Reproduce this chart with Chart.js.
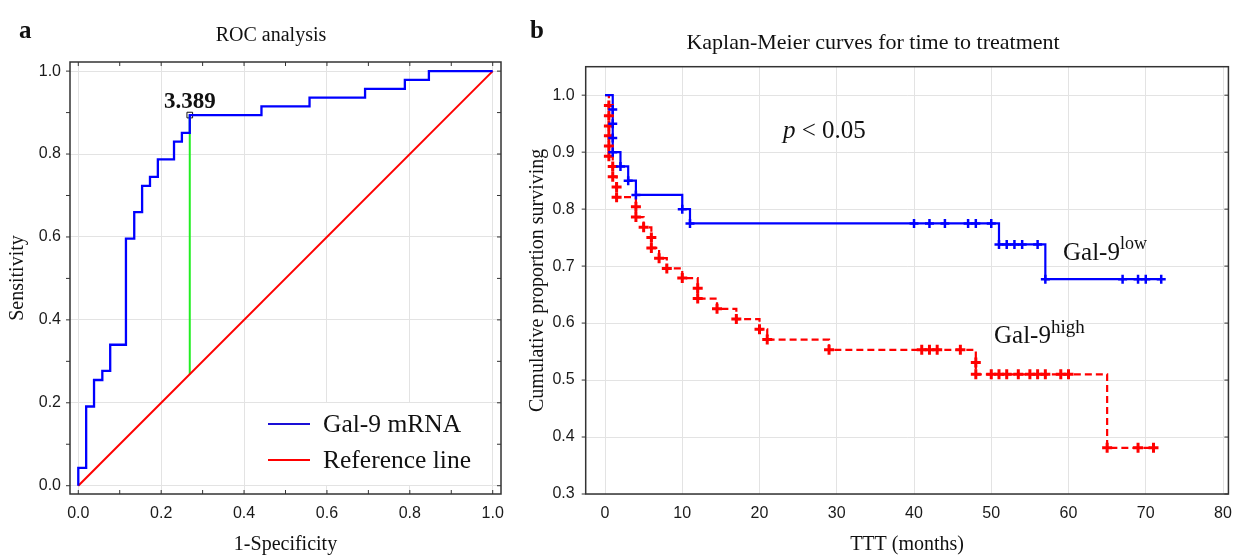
<!DOCTYPE html>
<html>
<head>
<meta charset="utf-8">
<script src="https://cdn.jsdelivr.net/npm/chart.js@4/dist/chart.umd.min.js"></script>
<style>
  body { margin: 0; background: #fff; }
  #wrap { position: relative; width: 1242px; height: 558px; }
  #rocBox { position: absolute; left: 0; top: 0; width: 520px; height: 558px; }
  #kmBox { position: absolute; left: 520px; top: 0; width: 722px; height: 558px; }
</style>
</head>
<body>
<div id="wrap">
  <div id="rocBox"><canvas id="roc"></canvas></div>
  <div id="kmBox"><canvas id="km"></canvas></div>
</div>
<script>
// ---- panel a: ROC ----
const rocFpr = [0, 0.019, 0.038, 0.058, 0.077, 0.115, 0.135, 0.154, 0.173, 0.192, 0.231, 0.250, 0.269, 0.442, 0.558, 0.692, 0.788, 0.846, 1.0];
const rocTpr = [0, 0.043, 0.191, 0.255, 0.277, 0.340, 0.596, 0.660, 0.723, 0.745, 0.787, 0.830, 0.851, 0.894, 0.915, 0.936, 0.957, 0.979, 1.0];
const refX = [0, 1];
const refY = [0, 1];
const cutX = 0.269;
const cutY = 0.894;
const cutLabel = '3.389';
const rocTicks = [0, 0.2, 0.4, 0.6, 0.8, 1.0];
const rocMinorTicks = [0, 0.1, 0.2, 0.3, 0.4, 0.5, 0.6, 0.7, 0.8, 0.9, 1.0];

// ---- panel b: Kaplan-Meier ----
const lowTime = [0, 1, 1, 1, 1, 2, 3, 4, 10, 11, 51, 57, 72];
const lowSurv = [1.0, 0.975, 0.95, 0.925, 0.9, 0.875, 0.85, 0.825, 0.8, 0.775, 0.738, 0.677, 0.677];
const lowMarkTime = [1, 1, 1, 1, 2, 3, 4, 10, 11, 40, 42, 44, 47, 48, 50, 51, 52, 53, 54, 56, 57, 67, 69, 70, 72];
const lowMarkSurv = [0.975, 0.95, 0.925, 0.9, 0.875, 0.85, 0.825, 0.8, 0.775, 0.775, 0.775, 0.775, 0.775, 0.775, 0.775, 0.738, 0.738, 0.738, 0.738, 0.738, 0.677, 0.677, 0.677, 0.677, 0.677];

const highTime = [0, 0.5, 0.5, 0.5, 0.5, 0.5, 0.5, 1, 1, 1.5, 1.5, 4, 4, 5, 6, 6, 7, 8, 10, 12, 12, 14.5, 17, 20, 21, 29, 48, 48, 65, 71];
const highSurv = [1.0, 0.982, 0.964, 0.946, 0.929, 0.911, 0.893, 0.875, 0.857, 0.839, 0.821, 0.804, 0.786, 0.768, 0.75, 0.732, 0.714, 0.696, 0.679, 0.661, 0.643, 0.625, 0.607, 0.589, 0.571, 0.553, 0.531, 0.510, 0.381, 0.381];
const highMarkTime = [0.5, 0.5, 0.5, 0.5, 0.5, 0.5, 1, 1, 1.5, 1.5, 4, 4, 5, 6, 6, 7, 8, 10, 12, 12, 14.5, 17, 20, 21, 29, 41, 42, 43, 46, 48, 48, 50, 51, 52, 53.5, 55, 56, 57, 59, 60, 65, 69, 71];
const highMarkSurv = [0.982, 0.964, 0.946, 0.929, 0.911, 0.893, 0.875, 0.857, 0.839, 0.821, 0.804, 0.786, 0.768, 0.75, 0.732, 0.714, 0.696, 0.679, 0.661, 0.643, 0.625, 0.607, 0.589, 0.571, 0.553, 0.553, 0.553, 0.553, 0.553, 0.531, 0.510, 0.510, 0.510, 0.510, 0.510, 0.510, 0.510, 0.510, 0.510, 0.510, 0.381, 0.381, 0.381];
const kmXTicks = [0, 10, 20, 30, 40, 50, 60, 70, 80];
const kmYTicks = [0.3, 0.4, 0.5, 0.6, 0.7, 0.8, 0.9, 1.0];

const pts = (xs, ys) => xs.map((x, i) => ({ x: x, y: ys[i] }));
const SERIF = '"Liberation Serif", "Times New Roman", serif';
const SANS = '"Liberation Sans", Arial, sans-serif';
const GRID = '#e3e3e3';

// box round the plot area + little tick marks
function framePlugin(xMinor, yMinor) {
  return {
    id: 'frame',
    afterDraw(chart) {
      const ctx = chart.ctx, a = chart.chartArea;
      const sx = chart.scales.x, sy = chart.scales.y;
      ctx.save();
      ctx.strokeStyle = '#333';
      ctx.lineWidth = 1;
      xMinor.forEach(v => {
        const px = sx.getPixelForValue(v);
        ctx.beginPath();
        ctx.moveTo(px, a.bottom); ctx.lineTo(px, a.bottom - 4);
        ctx.moveTo(px, a.top); ctx.lineTo(px, a.top + 4);
        ctx.stroke();
      });
      yMinor.forEach(v => {
        const py = sy.getPixelForValue(v);
        ctx.beginPath();
        ctx.moveTo(a.left, py); ctx.lineTo(a.left - 4, py);
        ctx.moveTo(a.right, py); ctx.lineTo(a.right - 4, py);
        ctx.stroke();
      });
      ctx.lineWidth = 1.5;
      ctx.strokeRect(a.left, a.top, a.right - a.left, a.bottom - a.top);
      ctx.restore();
    }
  };
}

function sup(ctx, x, y, base, top, size, supSize, rise) {
  ctx.font = size + 'px ' + SERIF;
  ctx.fillText(base, x, y);
  const w = ctx.measureText(base).width;
  ctx.font = supSize + 'px ' + SERIF;
  ctx.fillText(top, x + w, y - rise);
}

function axes(xTicks, yTicks, xr, yr, yWidth, yPad, xFmt, yFmt, xTitle, yTitle) {
  return {
    x: {
      type: 'linear', min: xr[0], max: xr[1],
      afterBuildTicks: s => { s.ticks = xTicks.map(v => ({ value: v })); },
      afterFit: s => { s.height = 64; },
      grid: { color: GRID, drawTicks: false },
      border: { display: false },
      ticks: { font: { family: SANS, size: 16 }, color: '#1a1a1a', padding: 10, maxRotation: 0, callback: xFmt },
      title: { display: true, text: xTitle, font: { family: SERIF, size: 20 }, color: '#111', padding: { top: 0, bottom: 1 } }
    },
    y: {
      type: 'linear', min: yr[0], max: yr[1],
      afterBuildTicks: s => { s.ticks = yTicks.map(v => ({ value: v })); },
      afterFit: s => { s.width = yWidth; },
      grid: { color: GRID, drawTicks: false },
      border: { display: false },
      ticks: { font: { family: SANS, size: 16 }, color: '#1a1a1a', padding: yPad, callback: yFmt },
      title: { display: true, text: yTitle, font: { family: SERIF, size: 20 }, color: '#111', padding: { top: 6, bottom: 0 } }
    }
  };
}

const rocText = {
  id: 'rocText',
  afterDraw(chart) {
    const ctx = chart.ctx;
    const px = chart.scales.x.getPixelForValue(cutX);
    const py = chart.scales.y.getPixelForValue(cutY);
    ctx.save();
    ctx.fillStyle = '#111';
    ctx.textBaseline = 'alphabetic';
    ctx.font = 'bold 25px ' + SERIF;
    ctx.fillText('a', 19, 38);
    ctx.font = '20px ' + SERIF;
    ctx.textAlign = 'center';
    ctx.fillText('ROC analysis', 271, 41);
    ctx.font = 'bold 23px ' + SERIF;
    ctx.fillText(cutLabel, px, py - 7);
    // legend
    ctx.textAlign = 'left';
    ctx.fillStyle = '#fff';
    ctx.fillRect(258, 403, 234, 82);
    ctx.lineWidth = 2;
    ctx.strokeStyle = '#1a0fd6';
    ctx.beginPath(); ctx.moveTo(268, 424); ctx.lineTo(310, 424); ctx.stroke();
    ctx.strokeStyle = '#ff0000';
    ctx.beginPath(); ctx.moveTo(268, 460); ctx.lineTo(310, 460); ctx.stroke();
    ctx.fillStyle = '#111';
    ctx.font = '25.5px ' + SERIF;
    ctx.fillText('Gal-9 mRNA', 323, 432);
    ctx.fillText('Reference line', 323, 468);
    ctx.restore();
  }
};

new Chart(document.getElementById('roc'), {
  type: 'line',
  data: {
    datasets: [
      { label: 'Gal-9 mRNA', data: pts(rocFpr, rocTpr), borderColor: '#0000ff', borderWidth: 2.3, stepped: 'after', pointRadius: 0, fill: false },
      { label: 'Reference line', data: pts(refX, refY), borderColor: '#ff0000', borderWidth: 2, pointRadius: 0, fill: false },
      { label: 'Cut-off', data: [{ x: cutX, y: cutX }, { x: cutX, y: cutY }], borderColor: '#22ee22', borderWidth: 2, pointRadius: 0, fill: false },
      { label: 'Cut point', data: [{ x: cutX, y: cutY }], showLine: false, pointStyle: 'rect', pointRadius: 4, pointBorderColor: '#111', pointBackgroundColor: 'rgba(0,0,0,0)', pointBorderWidth: 1 }
    ]
  },
  options: {
    responsive: true, maintainAspectRatio: false, animation: false,
    layout: { padding: { left: 0, right: 19, top: 62, bottom: 0 } },
    plugins: { legend: { display: false }, tooltip: { enabled: false } },
    scales: axes(rocTicks, rocTicks, [-0.02, 1.02], [-0.02, 1.022], 70, 9,
      v => v.toFixed(1), v => v.toFixed(1), '1-Specificity', 'Sensitivity')
  },
  plugins: [framePlugin(rocMinorTicks, rocMinorTicks), rocText]
});

const kmText = {
  id: 'kmText',
  afterDraw(chart) {
    const ctx = chart.ctx;
    ctx.save();
    ctx.fillStyle = '#111';
    ctx.textBaseline = 'alphabetic';
    ctx.font = 'bold 25px ' + SERIF;
    ctx.fillText('b', 10, 38);
    ctx.font = '22px ' + SERIF;
    ctx.textAlign = 'center';
    ctx.fillText('Kaplan-Meier curves for time to treatment', 353, 49);
    ctx.textAlign = 'left';
    ctx.font = 'italic 25px ' + SERIF;
    ctx.fillText('p', 263, 138);
    const pw = ctx.measureText('p').width;
    ctx.font = '25px ' + SERIF;
    ctx.fillText(' < 0.05', 263 + pw, 138);
    sup(ctx, 543, 260, 'Gal-9', 'low', 25, 18, 11);
    sup(ctx, 474, 343, 'Gal-9', 'high', 25, 19, 10);
    ctx.restore();
  }
};

new Chart(document.getElementById('km'), {
  type: 'line',
  data: {
    datasets: [
      { label: 'low marks', data: pts(lowMarkTime, lowMarkSurv), showLine: false, pointStyle: 'cross', pointRadius: 4.5, pointBorderColor: '#0000ff', pointBorderWidth: 2.5 },
      { label: 'high marks', data: pts(highMarkTime, highMarkSurv), showLine: false, pointStyle: 'cross', pointRadius: 5, pointBorderColor: '#ff0000', pointBorderWidth: 3 },
      { label: 'Gal-9 low', data: pts(lowTime, lowSurv), borderColor: '#0000ff', borderWidth: 2.2, stepped: true, pointRadius: 0, fill: false },
      { label: 'Gal-9 high', data: pts(highTime, highSurv), borderColor: '#ff0000', borderWidth: 2.2, borderDash: [7, 4], stepped: true, pointRadius: 0, fill: false }
    ]
  },
  options: {
    responsive: true, maintainAspectRatio: false, animation: false,
    layout: { padding: { left: 0, right: 10, top: 66.7, bottom: 0 } },
    plugins: { legend: { display: false }, tooltip: { enabled: false } },
    scales: axes(kmXTicks, kmYTicks, [-2.5, 80.7], [0.3, 1.05], 65.7, 11,
      v => String(v), v => v.toFixed(1), 'TTT (months)', 'Cumulative proportion surviving')
  },
  plugins: [framePlugin([], kmYTicks), kmText]
});
</script>
</body>
</html>
